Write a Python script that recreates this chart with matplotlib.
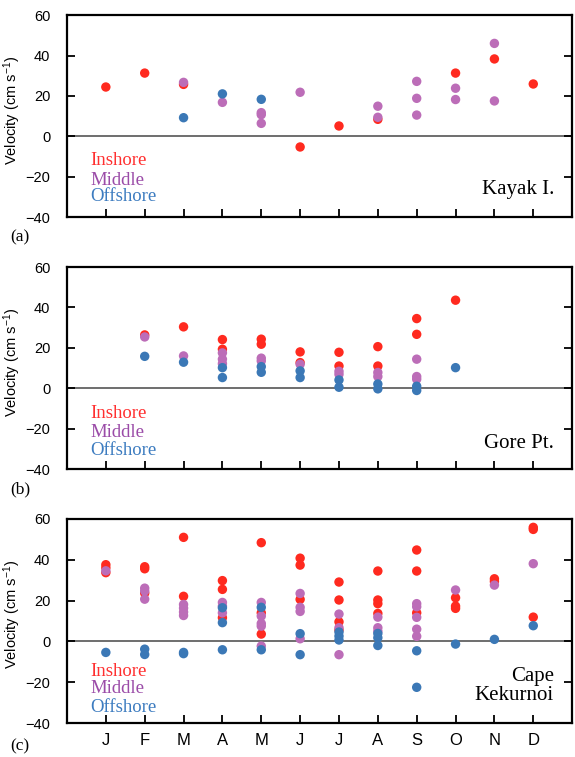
import matplotlib
matplotlib.use("Agg")
import matplotlib.pyplot as plt

plt.rcParams["mathtext.fontset"] = "custom"
plt.rcParams["mathtext.rm"] = "Liberation Sans"
plt.rcParams["mathtext.it"] = "Liberation Sans:italic"
plt.rcParams["mathtext.bf"] = "Liberation Sans:bold"

months = ["J", "F", "M", "A", "M", "J", "J", "A", "S", "O", "N", "D"]

# (a) Kayak I.
kayak_in_m = [1, 2, 3, 6, 7, 8, 10, 11, 12]
kayak_in_v = [24.4, 31.3, 25.7, -5.3, 5.1, 8.4, 31.3, 38.3, 25.9]
kayak_mid_m = [3, 4, 5, 5, 5, 6, 8, 8, 9, 9, 9, 10, 10, 11, 11]
kayak_mid_v = [26.7, 16.8, 11.7, 10.7, 6.4, 21.8, 9.4, 14.9, 27.2, 18.8, 10.5, 23.8, 18.2, 46, 17.5]
kayak_off_m = [3, 4, 5]
kayak_off_v = [9.2, 21, 18.3]

# (b) Gore Pt.
gore_in_m = [2, 3, 4, 4, 5, 5, 6, 6, 7, 7, 8, 8, 9, 9, 10]
gore_in_v = [26.4, 30.4, 24.1, 19.3, 24.3, 21.8, 18, 12.7, 17.8, 11, 20.6, 11, 34.5, 26.7, 43.6]
gore_mid_m = [2, 3, 4, 4, 4, 5, 5, 6, 7, 7, 8, 8, 9, 9, 9]
gore_mid_v = [25.4, 16, 17.5, 14.4, 12.2, 14.9, 13.5, 11.9, 8.4, 6.9, 7.8, 5.8, 14.4, 5.8, 4.5]
gore_off_m = [2, 3, 4, 4, 5, 5, 6, 6, 7, 7, 8, 8, 9, 9, 10]
gore_off_v = [15.8, 12.9, 10.2, 5.3, 10.7, 7.9, 8.6, 5.3, 4.1, 0.5, 2.1, -0.3, 1, -1.1, 10.2]

# (c) Cape Kekurnoi
cape_in_m = [1, 1, 1, 2, 2, 2, 3, 3, 4, 4, 4, 5, 5, 5, 6, 6, 6,
             7, 7, 7, 7, 8, 8, 8, 8, 9, 9, 9, 10, 10, 10, 11, 11, 12, 12, 12]
cape_in_v = [37.6, 36.1, 33.7, 36.6, 35.6, 23.7, 51, 22.1, 29.8, 25.5, 11.6, 48.4, 14, 3.6, 40.8, 37.4, 20.6,
             29.1, 20.3, 9.6, 5.6, 34.5, 20.3, 18.5, 13.7, 44.8, 34.5, 14, 21.4, 17.3, 16.2, 30.7, 29.4, 55.9, 54.9, 11.9]
cape_mid_m = [1, 2, 2, 2, 3, 3, 3, 3, 4, 4, 4, 5, 5, 5, 5, 5, 6, 6, 6, 6,
              7, 7, 7, 8, 8, 8, 9, 9, 9, 9, 9, 10, 11, 12]
cape_mid_v = [34.6, 26.1, 24.7, 20.7, 18.1, 16.3, 14.4, 12.7, 19.1, 17.3, 14, 19.1, 12.4, 8.8, 7.5, -2.3,
              23.5, 16.7, 14.7, 1.3, 13.4, 6.7, -6.5, 11.9, 6.7, 5, 18.5, 17, 11.8, 6, 2.5, 25.2, 27.6, 38.1]
cape_off_m = [1, 2, 2, 3, 3, 4, 4, 4, 5, 5, 6, 6, 7, 7, 7, 8, 8, 8, 9, 9, 10, 11, 12]
cape_off_v = [-5.4, -3.8, -6.4, -5.4, -6, 16.5, 9.2, -4.1, 16.7, -4.1, 3.8, -6.5, 4.6, 2.6, 0.7,
              3.9, 1.8, -2, -4.6, -22.5, -1.3, 1, 7.7]

panels = [
    ("Kayak I.", "(a)", kayak_in_m, kayak_in_v, kayak_mid_m, kayak_mid_v, kayak_off_m, kayak_off_v),
    ("Gore Pt.", "(b)", gore_in_m, gore_in_v, gore_mid_m, gore_mid_v, gore_off_m, gore_off_v),
    ("Cape\nKekurnoi", "(c)", cape_in_m, cape_in_v, cape_mid_m, cape_mid_v, cape_off_m, cape_off_v),
]

dot_red = "#ff2a1f"
dot_purple = "#bc6db8"
dot_blue = "#3b78b6"
serif = "Liberation Serif"
sans = "Liberation Sans"

fig = plt.figure(figsize=(5.75, 7.57), dpi=100)
boxes = [[0.1165, 0.7133, 0.8785, 0.2667],
         [0.1165, 0.3804, 0.8785, 0.2668],
         [0.1165, 0.0449, 0.8785, 0.2695]]
legend_y = [(0.279, 0.183, 0.100), (0.276, 0.180, 0.094), (0.251, 0.167, 0.075)]
site_y = [0.134, 0.127, 0.18]
letter_y = [0.687, 0.354, 0.014]

for i, (site, letter, im, iv, mm, mv, om, ov) in enumerate(panels):
    ax = fig.add_axes(boxes[i])
    ax.axhline(0, color="#555555", lw=1.2, zorder=1)
    ax.scatter(im, iv, s=46, color=dot_red, edgecolors="none", zorder=3)
    ax.scatter(mm, mv, s=46, color=dot_purple, edgecolors="none", zorder=4)
    ax.scatter(om, ov, s=46, color=dot_blue, edgecolors="none", zorder=5)
    ax.set_xlim(0, 13)
    ax.set_ylim(-40, 60)
    ax.set_yticks([-40, -20, 0, 20, 40, 60])
    ax.set_xticks(range(1, 13))
    if i == 2:
        ax.set_xticklabels(months, fontsize=12, family=sans)
    else:
        ax.set_xticklabels([])
    for lab in ax.get_yticklabels():
        lab.set_family(sans)
    ax.tick_params(axis="y", direction="in", length=6, width=1.3, labelsize=10.5, pad=12, right=True)
    ax.tick_params(axis="x", direction="in", length=6, width=1.3, pad=7)
    for sp in ax.spines.values():
        sp.set_linewidth(1.6)
    ax.set_ylabel("Velocity (cm s$^{-1}$)", fontsize=10.5, family=sans)
    ax.yaxis.set_label_coords(-0.088, 0.53)

    ly = legend_y[i]
    ax.text(0.047, ly[0], "Inshore", color="#ff3030", fontsize=13.5, family=serif,
            transform=ax.transAxes, va="center")
    ax.text(0.047, ly[1], "Middle", color="#9b4ca8", fontsize=13.5, family=serif,
            transform=ax.transAxes, va="center")
    ax.text(0.047, ly[2], "Offshore", color="#3d7cc0", fontsize=13.5, family=serif,
            transform=ax.transAxes, va="center")
    ax.text(0.964, site_y[i], site, fontsize=15, family=serif, ha="right", va="center",
            transform=ax.transAxes, linespacing=1.0)
    fig.text(0.018, letter_y[i], letter, fontsize=12.5, family=serif, va="center")

fig.savefig("out.png", dpi=100)
